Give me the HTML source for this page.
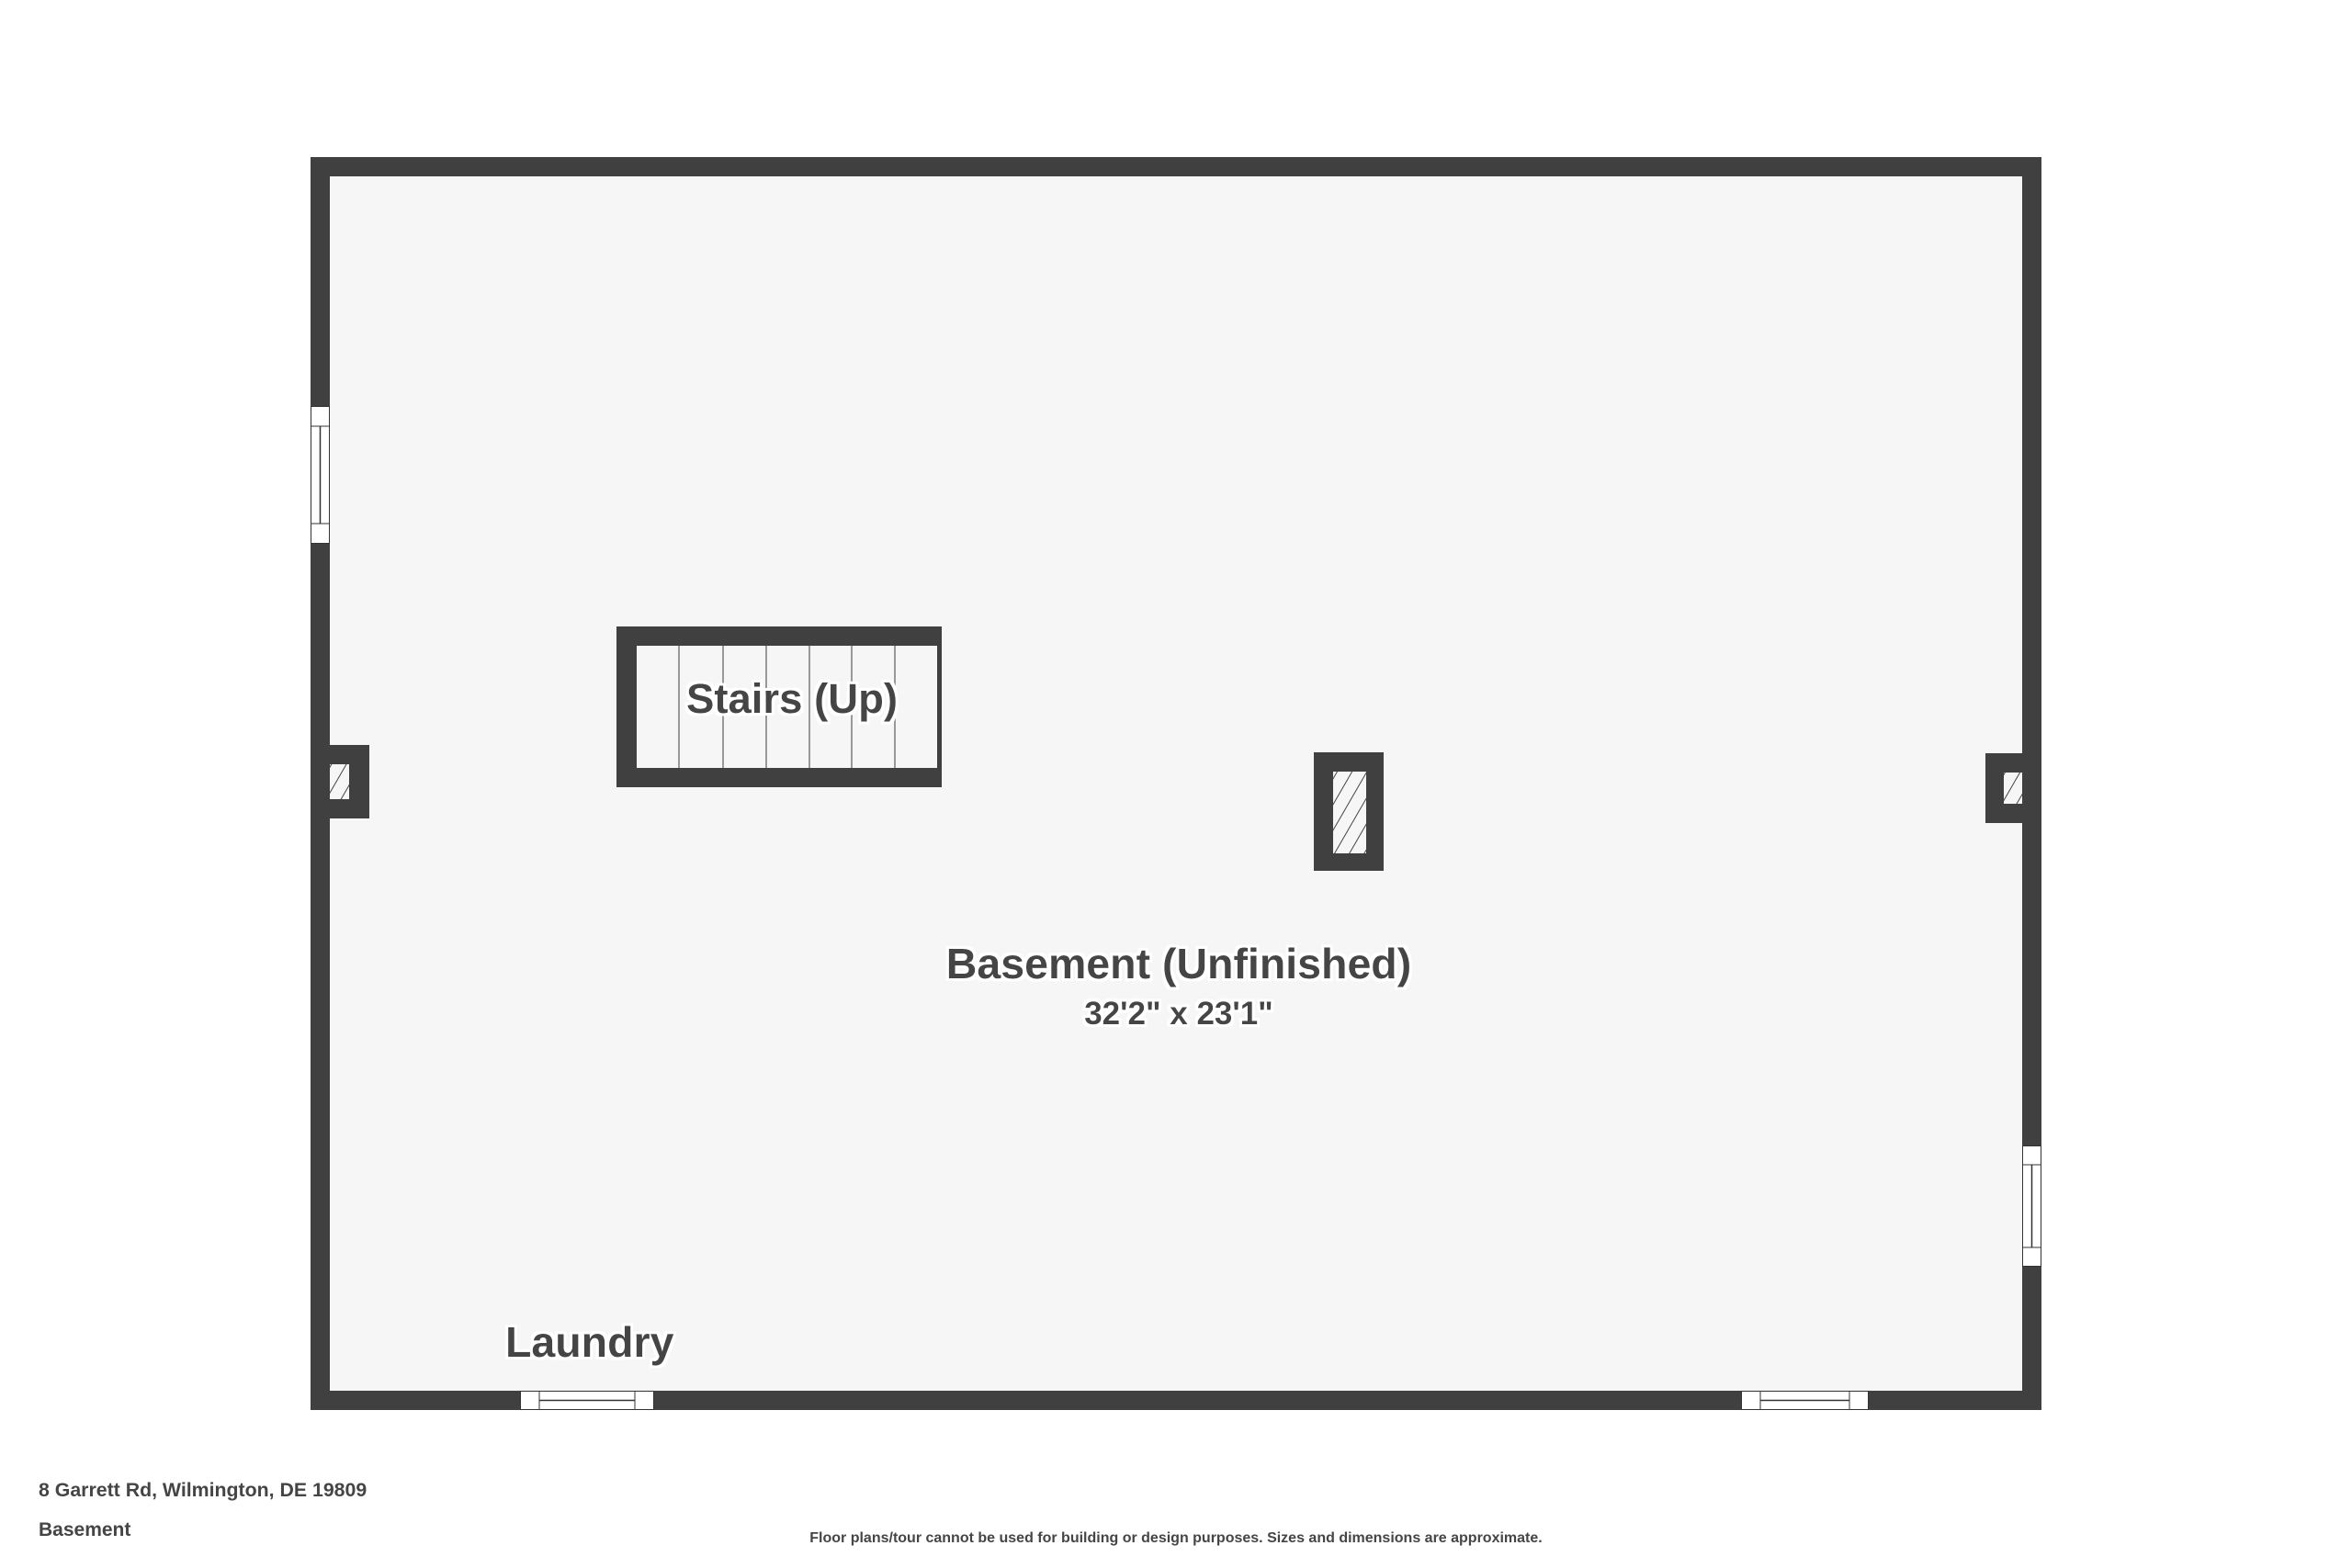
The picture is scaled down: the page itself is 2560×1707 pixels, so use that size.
<!DOCTYPE html>
<html><head><meta charset="utf-8"><style>
html,body{margin:0;padding:0;background:#fff;}
svg{display:block}
text{font-family:"Liberation Sans","DejaVu Sans",sans-serif;font-weight:bold;fill:#454545;}
</style></head><body>
<svg width="2560" height="1707" viewBox="0 0 2560 1707" xmlns="http://www.w3.org/2000/svg">
<defs>
<pattern id="h" width="14" height="14" patternUnits="userSpaceOnUse" patternTransform="rotate(30)">
<rect width="14" height="14" fill="#f6f6f6"/><line x1="0" y1="0" x2="0" y2="14" stroke="#444" stroke-width="2"/>
</pattern>
<filter id="halo"><feMorphology in="SourceAlpha" operator="dilate" radius="3" result="d"/><feFlood flood-color="#fff"/><feComposite in2="d" operator="in"/><feMerge><feMergeNode/><feMergeNode in="SourceGraphic"/></feMerge></filter>
</defs>
<rect x="338" y="171" width="1884" height="1364" fill="#404040"/>
<rect x="359" y="192" width="1842" height="1322" fill="#f6f6f6"/>
<rect x="338.5" y="442.5" width="20" height="149" fill="#fff" stroke="#333" stroke-width="1"/>
<line x1="338" y1="464" x2="359" y2="464" stroke="#333"/>
<line x1="338" y1="570" x2="359" y2="570" stroke="#333"/>
<line x1="348.5" y1="464" x2="348.5" y2="570" stroke="#333" stroke-width="1.5"/>
<rect x="2201.5" y="1247.5" width="20" height="131" fill="#fff" stroke="#333" stroke-width="1"/>
<line x1="2201" y1="1268" x2="2222" y2="1268" stroke="#333"/>
<line x1="2201" y1="1358" x2="2222" y2="1358" stroke="#333"/>
<line x1="2211.5" y1="1268" x2="2211.5" y2="1358" stroke="#333" stroke-width="1.5"/>
<rect x="566.5" y="1514.5" width="145" height="20" fill="#fff" stroke="#333"/>
<line x1="587" y1="1514" x2="587" y2="1535" stroke="#333"/>
<line x1="691" y1="1514" x2="691" y2="1535" stroke="#333"/>
<line x1="587" y1="1524.5" x2="691" y2="1524.5" stroke="#333" stroke-width="1.5"/>
<rect x="1895.5" y="1514.5" width="138" height="20" fill="#fff" stroke="#333"/>
<line x1="1916" y1="1514" x2="1916" y2="1535" stroke="#333"/>
<line x1="2013" y1="1514" x2="2013" y2="1535" stroke="#333"/>
<line x1="1916" y1="1524.5" x2="2013" y2="1524.5" stroke="#333" stroke-width="1.5"/>
<rect x="671" y="682" width="354" height="175" fill="#404040"/>
<rect x="693" y="703" width="327" height="133" fill="#f6f6f6"/>
<g stroke="#999" stroke-width="2">
<line x1="739" y1="703" x2="739" y2="836"/><line x1="787" y1="703" x2="787" y2="836"/>
<line x1="834" y1="703" x2="834" y2="836"/><line x1="881" y1="703" x2="881" y2="836"/>
<line x1="927" y1="703" x2="927" y2="836"/><line x1="974" y1="703" x2="974" y2="836"/>
</g>
<rect x="338" y="811" width="64" height="80" fill="#404040"/>
<rect x="359" y="832" width="21" height="38" fill="url(#h)"/>
<rect x="1430" y="819" width="76" height="129" fill="#404040"/>
<rect x="1451" y="840" width="36" height="89" fill="url(#h)"/>
<rect x="2161" y="820" width="61" height="76" fill="#404040"/>
<rect x="2181" y="841" width="20" height="34" fill="url(#h)"/>
<g filter="url(#halo)">
<text x="862" y="776" font-size="45.5" text-anchor="middle">Stairs (Up)</text>
<text x="1283" y="1065" font-size="46.5" text-anchor="middle">Basement (Unfinished)</text>
<text x="1283" y="1115" font-size="35" text-anchor="middle">32'2" x 23'1"</text>
<text x="550" y="1477" font-size="46.5">Laundry</text>
</g>
<text x="42" y="1629" font-size="21.3">8 Garrett Rd, Wilmington, DE 19809</text>
<text x="42" y="1672" font-size="21">Basement</text>
<text x="1280" y="1679" font-size="16" text-anchor="middle">Floor plans/tour cannot be used for building or design purposes. Sizes and dimensions are approximate.</text>
</svg>
</body></html>
